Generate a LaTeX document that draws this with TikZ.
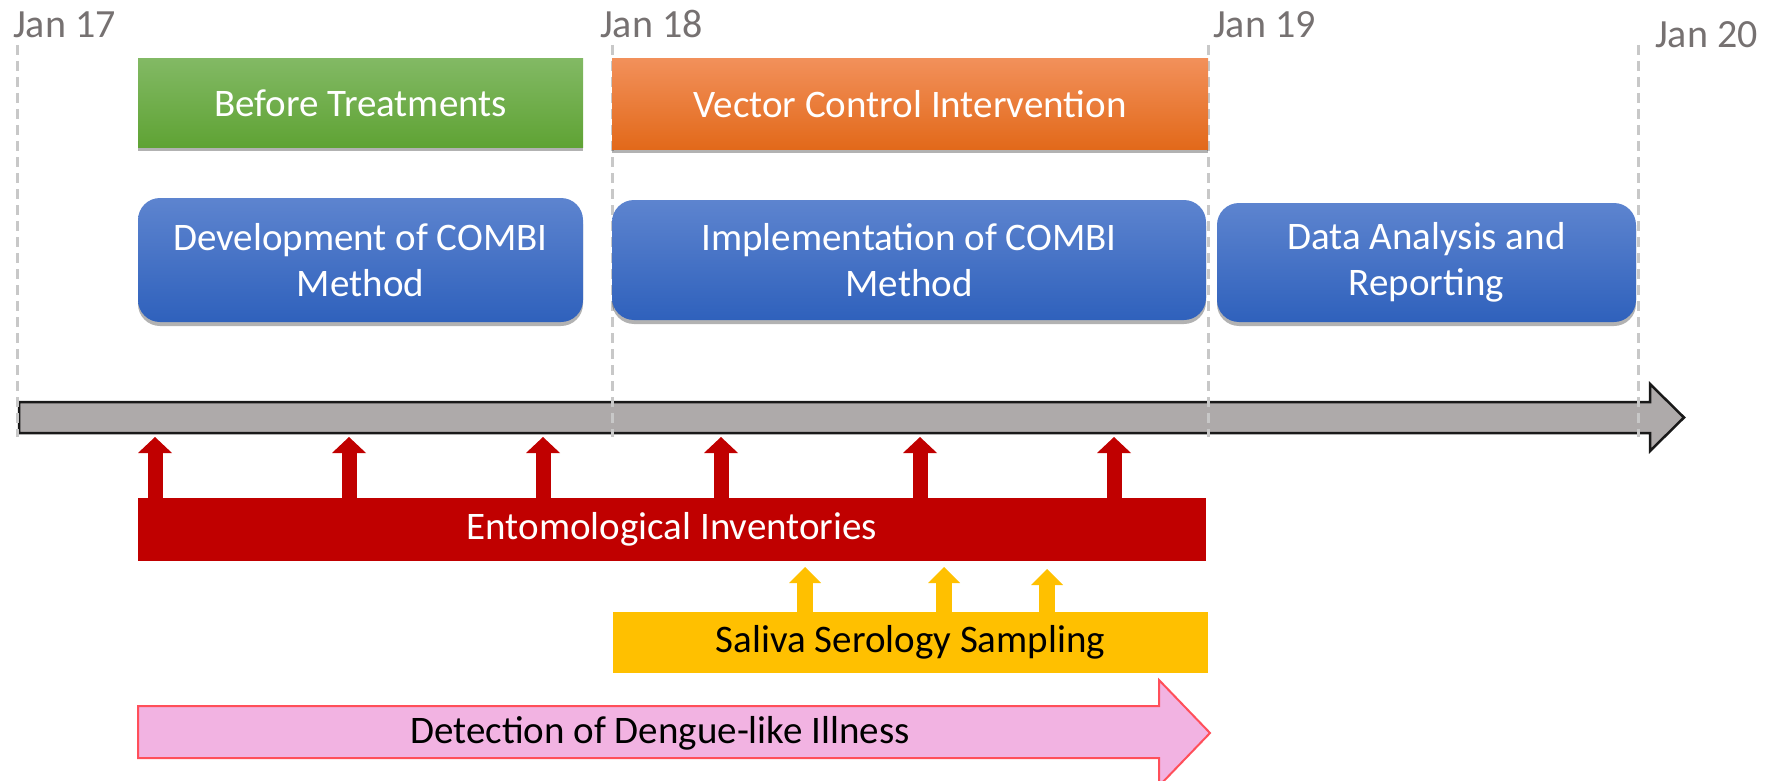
\documentclass[tikz,border=0pt]{standalone}
\usepackage{fontspec}
\setmainfont{Carlito}
\usetikzlibrary{arrows.meta,shadows}
\definecolor{jangray}{HTML}{767171}
\definecolor{dashgray}{HTML}{C8C8C8}
\definecolor{barfill}{HTML}{AEAAAA}
\definecolor{greenA}{HTML}{82B964}
\definecolor{greenB}{HTML}{5FA334}
\definecolor{orangeA}{HTML}{F2905A}
\definecolor{orangeB}{HTML}{E2691A}
\definecolor{blueA}{HTML}{5D84CF}
\definecolor{blueB}{HTML}{2F61BC}
\definecolor{entred}{HTML}{C00000}
\definecolor{salyellow}{HTML}{FFC000}
\definecolor{pinkfill}{HTML}{F2B3E2}
\definecolor{pinkline}{HTML}{FF4F5A}
\begin{document}
\begin{tikzpicture}[x=1pt,y=-1pt,
  boxfont/.style={font=\fontsize{39}{46}\selectfont},
  janlabel/.style={anchor=base west,text=jangray,font=\fontsize{40}{44}\selectfont,inner sep=0pt},
  dayline/.style={draw=dashgray,line width=3pt,dash pattern=on 10pt off 6pt},
  phase/.style={boxfont,inner sep=0pt,outer sep=0pt,text=white,align=center,
    drop shadow={shadow xshift=0pt,shadow yshift=-4pt,opacity=0.3,fill=black}},
  greenbox/.style={phase,top color=greenA,bottom color=greenB},
  orangebox/.style={phase,top color=orangeA,bottom color=orangeB},
  bluebox/.style={phase,top color=blueA,bottom color=blueB,rounded corners=22pt},
  flatbar/.style={boxfont,inner sep=0pt,outer sep=0pt,align=center},
  redarr/.style={draw=entred,line width=15pt,-{Triangle[width=34pt,length=16pt,line width=0pt]}},
  yelarr/.style={draw=salyellow,line width=16pt,-{Triangle[width=32pt,length=16pt,line width=0pt]}}
]
\useasboundingbox (0,0) rectangle (1774,781);

% main time axis arrow
\filldraw[fill=barfill,draw=black!90,line width=2.5pt,line join=miter]
  (19,402) -- (1650,402) -- (1650,384) -- (1684,417.5) -- (1650,451) -- (1650,433) -- (19,433) -- cycle;

% day lines and labels
\coordinate (d17t) at (17,45);   \coordinate (d17b) at (17,437);
\coordinate (d18t) at (612,45);  \coordinate (d18b) at (612,437);
\coordinate (d19t) at (1208,45); \coordinate (d19b) at (1208,437);
\coordinate (d20t) at (1638,45); \coordinate (d20b) at (1638,437);
\draw[dayline] (d17t) -- (d17b);
\draw[dayline] (d18t) -- (d18b);
\draw[dayline] (d19t) -- (d19b);
\draw[dayline] (d20t) -- (d20b);
\node[janlabel] (j17) at (13,38) {Jan 17};
\node[janlabel] (j18) at (600,38) {Jan 18};
\node[janlabel] (j19) at (1213,38) {Jan 19};
\node[janlabel] (j20) at (1655,48) {Jan 20};

% phase boxes
\node[greenbox,minimum width=445pt,minimum height=88pt] (bt) at (360.5,103) {Before Treatments};
\node[orangebox,minimum width=596pt,minimum height=90pt] (vci) at (910,104) {Vector Control Intervention};
\node[bluebox,minimum width=445pt,minimum height=124pt] (dev) at (360.5,260) {Development of COMBI\\Method};
\node[bluebox,minimum width=594pt,minimum height=120pt] (imp) at (909,260) {Implementation of COMBI\\Method};
\node[bluebox,minimum width=419pt,minimum height=119pt] (dar) at (1426.5,262.5) {Data Analysis and\\Reporting};

% entomological inventories
\node[flatbar,fill=entred,text=white,minimum width=1068pt,minimum height=63pt] (ent) at (672,529.5) {Entomological Inventories};
\coordinate (r1) at (155,437);
\coordinate (r2) at (349,437);
\coordinate (r3) at (543,437);
\coordinate (r4) at (721,437);
\coordinate (r5) at (920,437);
\coordinate (r6) at (1114,437);
\foreach \r in {r1,r2,r3,r4,r5,r6} \draw[redarr] (ent.north -| \r) -- (\r);

% saliva serology sampling
\node[flatbar,fill=salyellow,text=black,minimum width=595pt,minimum height=61pt] (ssp) at (910.5,642.5) {Saliva Serology Sampling};
\coordinate (y1) at (805,567);
\coordinate (y2) at (944,567);
\coordinate (y3) at (1047,569);
\foreach \y in {y1,y2,y3} \draw[yelarr] (ssp.north -| \y) -- (\y);

% detection of dengue-like illness
\filldraw[fill=pinkfill,draw=pinkline,line width=2pt,line join=miter]
  (138,706) -- (1159,706) -- (1159,680) -- (1210,733) -- (1159,786) -- (1159,758) -- (138,758) -- cycle;
\node[boxfont,text=black,inner sep=0pt] (ddi) at (660,733) {Detection of Dengue-like Illness};
\end{tikzpicture}
\end{document}
